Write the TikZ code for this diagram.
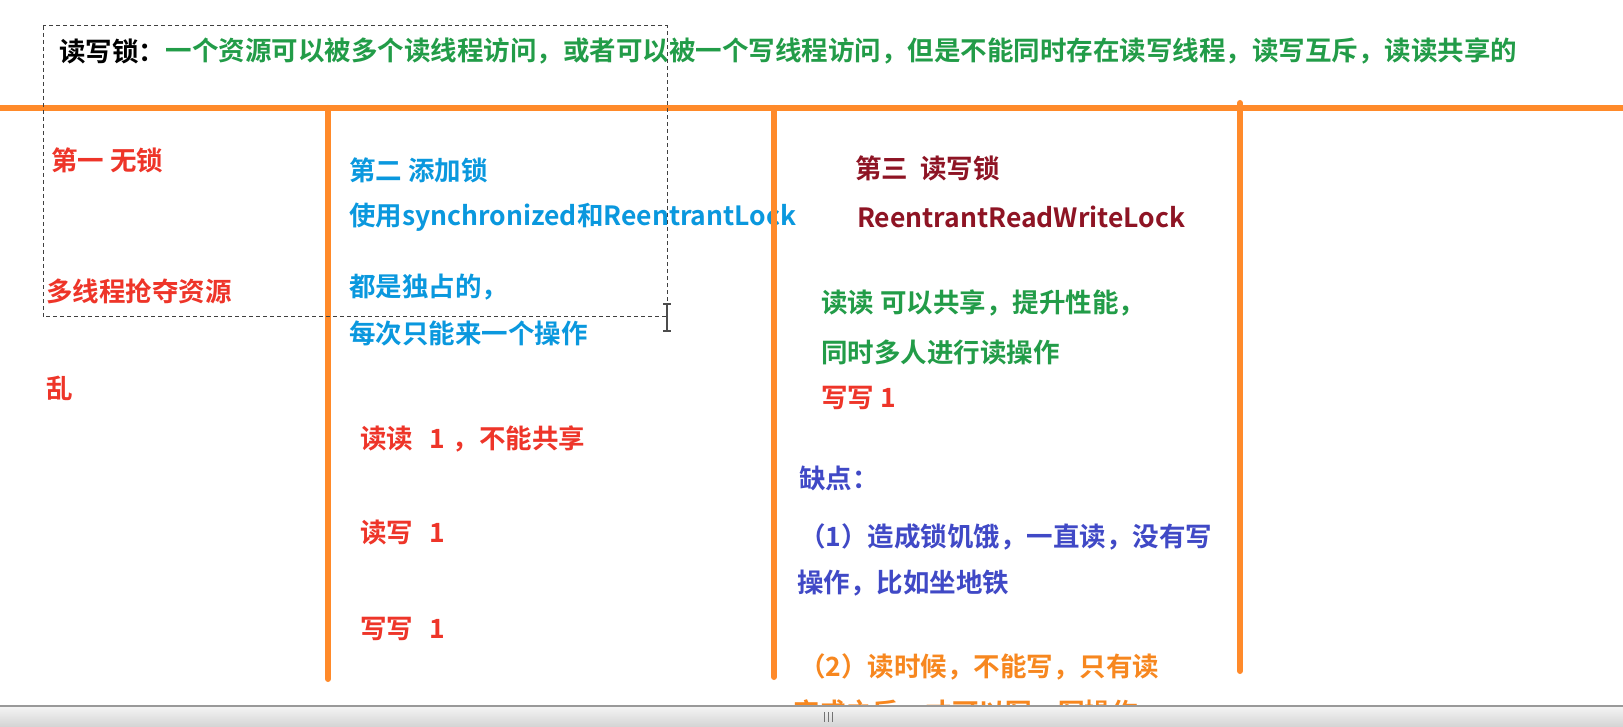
\documentclass[tikz,border=0pt]{standalone}
\usepackage{fontspec}
\setmainfont{Noto Sans CJK SC}[BoldFont={Noto Sans CJK SC Bold}]
\usepackage{xcolor}
\usepackage{tikz}
\usetikzlibrary{positioning, calc}
\definecolor{rwOrange}{HTML}{FF8A2A}
\definecolor{rwGreen}{HTML}{229C48}
\definecolor{rwRed}{HTML}{EE3529}
\definecolor{rwBlue}{HTML}{0A98DE}
\definecolor{rwDark}{HTML}{8E1424}
\definecolor{rwPurple}{HTML}{4049C6}
\definecolor{rwText}{HTML}{F7871F}

\tikzset{
  note/.style={anchor=west, inner sep=0pt, font=\fontsize{26.5}{30}\selectfont\bfseries},
  bar/.style={draw=rwOrange, line width=6pt, line cap=round},
}

\begin{document}
\begin{tikzpicture}[x=1pt, y=-1pt]
  \useasboundingbox (0,0) rectangle (1623,727);
  \fill[white] (0,0) rectangle (1623,727);

  % heading
  \node[note] (title) at (59,51) {读写锁：};
  \node[note, rwGreen, right=0pt of title] (titledef)
    {一个资源可以被多个读线程访问，或者可以被一个写线程访问，但是不能同时存在读写线程，读写互斥，读读共享的};

  % first column
  \node[note, rwRed] (nolock) at (51,160) {第一 无锁};
  \node[note, rwRed] (grab) at (46,291) {多线程抢夺资源};
  \node[note, rwRed] (mess) at (46,388) {乱};

  % second column
  \node[note, rwBlue] (addlock) at (349,170) {第二 添加锁};
  \node[note, rwBlue] (usesync) at (349,217) {使用synchronized和ReentrantLock};
  \node[note, rwBlue] (excl) at (349,287) {都是独占的，};
  \node[note, rwBlue] (once) at (349,333) {每次只能来一个操作};
  \node[note, rwRed] (rr) at (360,439) {读读\hspace{16pt}1\hspace{8pt}，不能共享};
  \node[note, rwRed] (rw) at (360,533) {读写\hspace{16pt}1};
  \node[note, rwRed] (ww) at (360,629) {写写\hspace{16pt}1};

  % third column
  \node[note, rwDark] (rwlock) at (855,168) {第三\hspace{12pt}读写锁};
  \node[note, rwDark] (rrwl) at (857,217) {ReentrantReadWriteLock};
  \node[note, rwGreen] (share) at (821,303) {读读 可以共享，提升性能，};
  \node[note, rwGreen] (many) at (821,352) {同时多人进行读操作};
  \node[note, rwRed] (ww3) at (821,398) {写写 1};
  \node[note, rwPurple] (cons) at (799,478) {缺点：};
  \node[note, rwPurple] (con1) at (799,537) {（1）造成锁饥饿，一直读，没有写};
  \node[note, rwPurple] (con1b) at (797,583) {操作，比如坐地铁};
  \node[note, rwText] (con2) at (799,667) {（2）读时候，不能写，只有读};
  \node[note, rwText] (con2b) at (793,713) {完成之后，才可以写，写操作};

  % orange frame
  \draw[bar, line cap=butt] (0,108) -- (1623,108);
  \draw[bar] (328,108) -- (328,679);
  \draw[bar] (774,108) -- (774,677);
  \draw[bar] (1240,103) -- (1240,671);

  % selection and cursor
  \draw[black!75, line width=1pt, dash pattern=on 4pt off 3pt] (43,26) rectangle (667,317);
  \draw[black!70, line width=1.2pt] (667,304) -- (667,331)
    (663,304) -- (671,304) (663,331) -- (671,331);

  % scrollbar
  \shade[top color=black!4, bottom color=black!17] (0,706) rectangle (1623,727);
  \draw[black!40, line width=1.2pt] (0,706) -- (1623,706);
  \foreach \gx in {824,828,832}
    \draw[black!55, line width=1pt] (\gx,712) -- (\gx,722);
\end{tikzpicture}
\end{document}
